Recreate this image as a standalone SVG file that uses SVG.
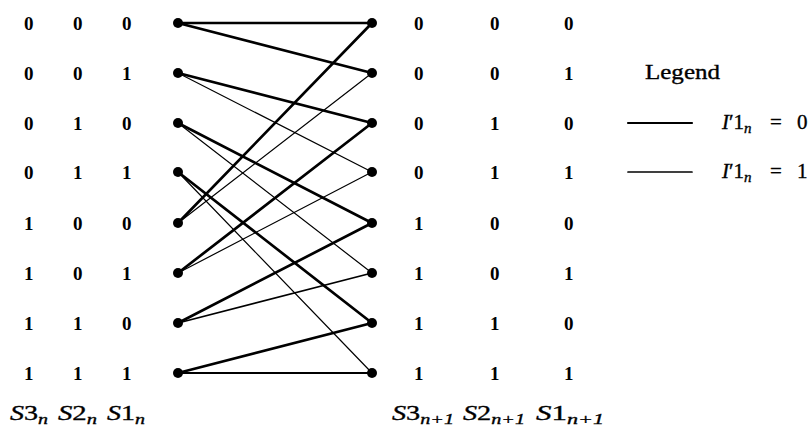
<svg xmlns="http://www.w3.org/2000/svg" width="810" height="434" viewBox="0 0 810 434">
<style>
.d{font-family:"Liberation Serif","DejaVu Serif",serif;font-size:19px;font-weight:bold;fill:#000}
.t{font-family:"Liberation Serif","DejaVu Serif",serif;font-size:21px;fill:#000;stroke:#000;stroke-width:0.35}
.i{font-style:italic}
.sub{font-size:15px;font-style:italic}
.thick{stroke:#000;stroke-width:2.7;fill:none;stroke-linecap:round}
.med{stroke:#000;stroke-width:1.8;fill:none;stroke-linecap:round}
.thin{stroke:#000;stroke-width:1.2;fill:none;stroke-linecap:round}
.dot{fill:#000}
</style>
<rect width="810" height="434" fill="#fff"/>
<g id="connectors">
<line class="thick" x1="178" y1="23" x2="372" y2="23"/>
<line class="thick" x1="178" y1="23" x2="372" y2="73"/>
<line class="thick" x1="178" y1="73" x2="372" y2="123"/>
<line class="thin" x1="178" y1="73" x2="372" y2="172"/>
<line class="thick" x1="178" y1="123" x2="372" y2="223"/>
<line class="thin" x1="178" y1="123" x2="372" y2="273"/>
<line class="thick" x1="178" y1="172" x2="372" y2="323"/>
<line class="thin" x1="178" y1="172" x2="372" y2="373"/>
<line class="thick" x1="178" y1="223" x2="372" y2="23"/>
<line class="thin" x1="178" y1="223" x2="372" y2="73"/>
<line class="thick" x1="178" y1="273" x2="372" y2="123"/>
<line class="thin" x1="178" y1="273" x2="372" y2="172"/>
<line class="thick" x1="178" y1="323" x2="372" y2="223"/>
<line class="med" x1="178" y1="323" x2="372" y2="273"/>
<line class="thick" x1="178" y1="373" x2="372" y2="323"/>
<line class="med" x1="178" y1="373" x2="372" y2="373"/>
</g>
<g id="left-nodes">
<g id="L000"><circle class="dot" cx="178" cy="23" r="5"/><text class="d" x="24" y="30">0</text><text class="d" x="73" y="30">0</text><text class="d" x="122" y="30">0</text></g>
<g id="L001"><circle class="dot" cx="178" cy="73" r="5"/><text class="d" x="24" y="80">0</text><text class="d" x="73" y="80">0</text><text class="d" x="122" y="80">1</text></g>
<g id="L010"><circle class="dot" cx="178" cy="123" r="5"/><text class="d" x="24" y="130">0</text><text class="d" x="73" y="130">1</text><text class="d" x="122" y="130">0</text></g>
<g id="L011"><circle class="dot" cx="178" cy="172" r="5"/><text class="d" x="24" y="179">0</text><text class="d" x="73" y="179">1</text><text class="d" x="122" y="179">1</text></g>
<g id="L100"><circle class="dot" cx="178" cy="223" r="5"/><text class="d" x="24" y="230">1</text><text class="d" x="73" y="230">0</text><text class="d" x="122" y="230">0</text></g>
<g id="L101"><circle class="dot" cx="178" cy="273" r="5"/><text class="d" x="24" y="280">1</text><text class="d" x="73" y="280">0</text><text class="d" x="122" y="280">1</text></g>
<g id="L110"><circle class="dot" cx="178" cy="323" r="5"/><text class="d" x="24" y="330">1</text><text class="d" x="73" y="330">1</text><text class="d" x="122" y="330">0</text></g>
<g id="L111"><circle class="dot" cx="178" cy="373" r="5"/><text class="d" x="24" y="380">1</text><text class="d" x="73" y="380">1</text><text class="d" x="122" y="380">1</text></g>
</g>
<g id="right-nodes">
<g id="R000"><circle class="dot" cx="372" cy="23" r="5"/><text class="d" x="414" y="30">0</text><text class="d" x="490" y="30">0</text><text class="d" x="564" y="30">0</text></g>
<g id="R001"><circle class="dot" cx="372" cy="73" r="5"/><text class="d" x="414" y="80">0</text><text class="d" x="490" y="80">0</text><text class="d" x="564" y="80">1</text></g>
<g id="R010"><circle class="dot" cx="372" cy="123" r="5"/><text class="d" x="414" y="130">0</text><text class="d" x="490" y="130">1</text><text class="d" x="564" y="130">0</text></g>
<g id="R011"><circle class="dot" cx="372" cy="172" r="5"/><text class="d" x="414" y="179">0</text><text class="d" x="490" y="179">1</text><text class="d" x="564" y="179">1</text></g>
<g id="R100"><circle class="dot" cx="372" cy="223" r="5"/><text class="d" x="414" y="230">1</text><text class="d" x="490" y="230">0</text><text class="d" x="564" y="230">0</text></g>
<g id="R101"><circle class="dot" cx="372" cy="273" r="5"/><text class="d" x="414" y="280">1</text><text class="d" x="490" y="280">0</text><text class="d" x="564" y="280">1</text></g>
<g id="R110"><circle class="dot" cx="372" cy="323" r="5"/><text class="d" x="414" y="330">1</text><text class="d" x="490" y="330">1</text><text class="d" x="564" y="330">0</text></g>
<g id="R111"><circle class="dot" cx="372" cy="373" r="5"/><text class="d" x="414" y="380">1</text><text class="d" x="490" y="380">1</text><text class="d" x="564" y="380">1</text></g>
</g>
<g id="axis-labels">
<text class="t" x="10" y="420" textLength="38" lengthAdjust="spacingAndGlyphs"><tspan class="i">S</tspan>3<tspan class="sub" dy="4">n</tspan></text>
<text class="t" x="58" y="420" textLength="39" lengthAdjust="spacingAndGlyphs"><tspan class="i">S</tspan>2<tspan class="sub" dy="4">n</tspan></text>
<text class="t" x="107" y="420" textLength="38" lengthAdjust="spacingAndGlyphs"><tspan class="i">S</tspan>1<tspan class="sub" dy="4">n</tspan></text>
<text class="t" x="392" y="420" textLength="62" lengthAdjust="spacingAndGlyphs"><tspan class="i">S</tspan>3<tspan class="sub" dy="4">n+1</tspan></text>
<text class="t" x="463" y="420" textLength="62" lengthAdjust="spacingAndGlyphs"><tspan class="i">S</tspan>2<tspan class="sub" dy="4">n+1</tspan></text>
<text class="t" x="536" y="420" textLength="68" lengthAdjust="spacingAndGlyphs"><tspan class="i">S</tspan>1<tspan class="sub" dy="4">n+1</tspan></text>
</g>
<g id="legend">
<text class="t" x="645" y="79" textLength="75" lengthAdjust="spacingAndGlyphs">Legend</text>
<line class="thick" x1="628" y1="123" x2="692" y2="123" style="stroke-width:2.2"/>
<line class="thin" x1="628" y1="172" x2="692" y2="172" style="stroke-width:1.7"/>
<text class="t" x="722" y="129"><tspan class="i">I</tspan>′1<tspan class="sub" dy="4">n</tspan></text>
<text class="t" x="770" y="129">=</text><text class="t" x="797" y="129">0</text>
<text class="t" x="722" y="178"><tspan class="i">I</tspan>′1<tspan class="sub" dy="4">n</tspan></text>
<text class="t" x="770" y="178">=</text><text class="t" x="797" y="178">1</text>
</g>
</svg>
